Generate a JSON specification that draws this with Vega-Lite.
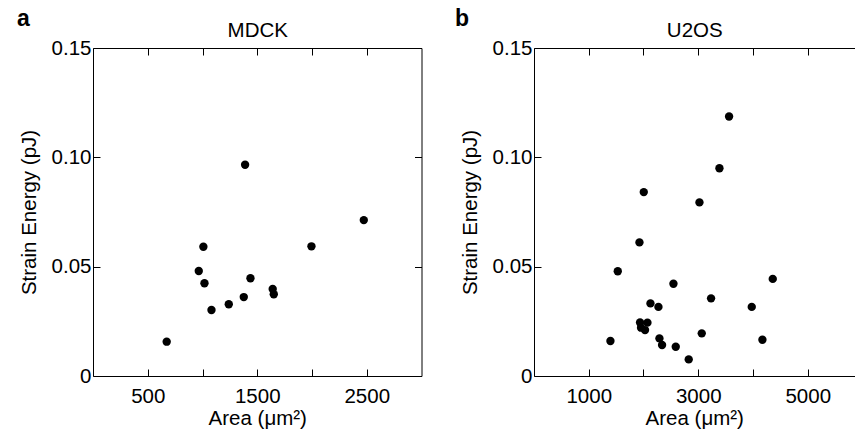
{
  "$schema": "https://vega.github.io/schema/vega-lite/v6.json",
  "padding": {"left": 17, "top": 8, "right": 0, "bottom": 0},
  "spacing": 33,
  "config": {
    "view": {"stroke": null},
    "font": "Liberation Sans",
    "axis": {
      "grid": false,
      "domainColor": "#000",
      "domainWidth": 1,
      "tickColor": "#000",
      "tickWidth": 1,
      "tickSize": -7,
      "labelFont": "Liberation Sans",
      "labelFontSize": 20.5,
      "labelColor": "#000",
      "titleFont": "Liberation Sans",
      "titleFontSize": 20.5,
      "titleFontWeight": "normal",
      "titleColor": "#000"
    },
    "title": {"font": "Liberation Sans", "fontSize": 23, "fontWeight": "bold", "color": "#000", "anchor": "start", "frame": "bounds"}
  },
  "datasets": {
    "mdck": [
      {"area": 673, "energy": 0.0157},
      {"area": 966, "energy": 0.048},
      {"area": 1008, "energy": 0.0591},
      {"area": 1018, "energy": 0.0424},
      {"area": 1082, "energy": 0.0302},
      {"area": 1240, "energy": 0.0328},
      {"area": 1377, "energy": 0.0361},
      {"area": 1389, "energy": 0.0966},
      {"area": 1438, "energy": 0.0447},
      {"area": 1641, "energy": 0.0398},
      {"area": 1651, "energy": 0.0374},
      {"area": 1995, "energy": 0.0593},
      {"area": 2473, "energy": 0.0713}
    ],
    "u2os": [
      {"area": 3563, "energy": 0.1187},
      {"area": 3387, "energy": 0.095},
      {"area": 2005, "energy": 0.0841},
      {"area": 3022, "energy": 0.0794},
      {"area": 1926, "energy": 0.0611},
      {"area": 1530, "energy": 0.0479},
      {"area": 4361, "energy": 0.0444},
      {"area": 2547, "energy": 0.0422},
      {"area": 3234, "energy": 0.0355},
      {"area": 2127, "energy": 0.0332},
      {"area": 2273, "energy": 0.0316},
      {"area": 3977, "energy": 0.0316},
      {"area": 1937, "energy": 0.0245},
      {"area": 2072, "energy": 0.0244},
      {"area": 1955, "energy": 0.0221},
      {"area": 2028, "energy": 0.021},
      {"area": 3064, "energy": 0.0195},
      {"area": 1396, "energy": 0.016},
      {"area": 4172, "energy": 0.0166},
      {"area": 2291, "energy": 0.0172},
      {"area": 2339, "energy": 0.0142},
      {"area": 2589, "energy": 0.0134},
      {"area": 2826, "energy": 0.0076}
    ]
  },
  "hconcat": [
    {
      "width": 328.5,
      "height": 328,
      "title": {"text": "a", "offset": -11, "dx": -2},
      "data": {"name": "mdck"},
      "resolve": {"axis": {"x": "independent", "y": "independent"}},
      "layer": [
        {
          "mark": {"type": "circle", "size": 70, "color": "#000", "opacity": 1},
          "encoding": {
            "x": {"field": "area", "type": "quantitative",
              "scale": {"domain": [0, 3000], "nice": false},
              "axis": {"orient": "bottom", "values": [500, 1000, 1500, 2000, 2500],
                "labelExpr": "datum.value % 1000 == 500 ? format(datum.value, 'd') : ''",
                "title": "Area (μm²)", "labelPadding": 17, "titlePadding": 2}},
            "y": {"field": "energy", "type": "quantitative",
              "scale": {"domain": [0, 0.15], "nice": false},
              "axis": {"orient": "left", "values": [0, 0.05, 0.1, 0.15],
                "labelExpr": "datum.value == 0 ? '0' : format(datum.value, '.2f')",
                "title": "Strain Energy (pJ)", "labelPadding": 9, "titlePadding": 12}}
          }
        },
        {
          "mark": {"type": "circle", "opacity": 0},
          "encoding": {
            "x": {"field": "area", "type": "quantitative",
              "axis": {"orient": "top", "values": [500, 1000, 1500, 2000, 2500], "labels": false,
                "title": "MDCK", "titlePadding": 7.5}},
            "y": {"field": "energy", "type": "quantitative",
              "axis": {"orient": "right", "values": [0.05, 0.1], "labels": false, "title": null}}
          }
        }
      ]
    },
    {
      "width": 320.5,
      "height": 328,
      "title": {"text": "b", "offset": -11, "dx": -5},
      "data": {"name": "u2os"},
      "resolve": {"axis": {"x": "independent"}},
      "layer": [
        {
          "mark": {"type": "circle", "size": 70, "color": "#000", "opacity": 1},
          "encoding": {
            "x": {"field": "area", "type": "quantitative",
              "scale": {"domain": [0, 5854], "nice": false},
              "axis": {"orient": "bottom", "values": [1000, 2000, 3000, 4000, 5000],
                "labelExpr": "datum.value % 2000 == 1000 ? format(datum.value, 'd') : ''",
                "title": "Area (μm²)", "labelPadding": 17, "titlePadding": 2}},
            "y": {"field": "energy", "type": "quantitative",
              "scale": {"domain": [0, 0.15], "nice": false},
              "axis": {"orient": "left", "values": [0, 0.05, 0.1, 0.15],
                "labelExpr": "datum.value == 0 ? '0' : format(datum.value, '.2f')",
                "title": "Strain Energy (pJ)", "labelPadding": 9, "titlePadding": 12}}
          }
        },
        {
          "mark": {"type": "circle", "opacity": 0},
          "encoding": {
            "x": {"field": "area", "type": "quantitative",
              "axis": {"orient": "top", "values": [1000, 2000, 3000, 4000, 5000], "labels": false,
                "title": "U2OS", "titlePadding": 7.5}}
          }
        }
      ]
    }
  ]
}
